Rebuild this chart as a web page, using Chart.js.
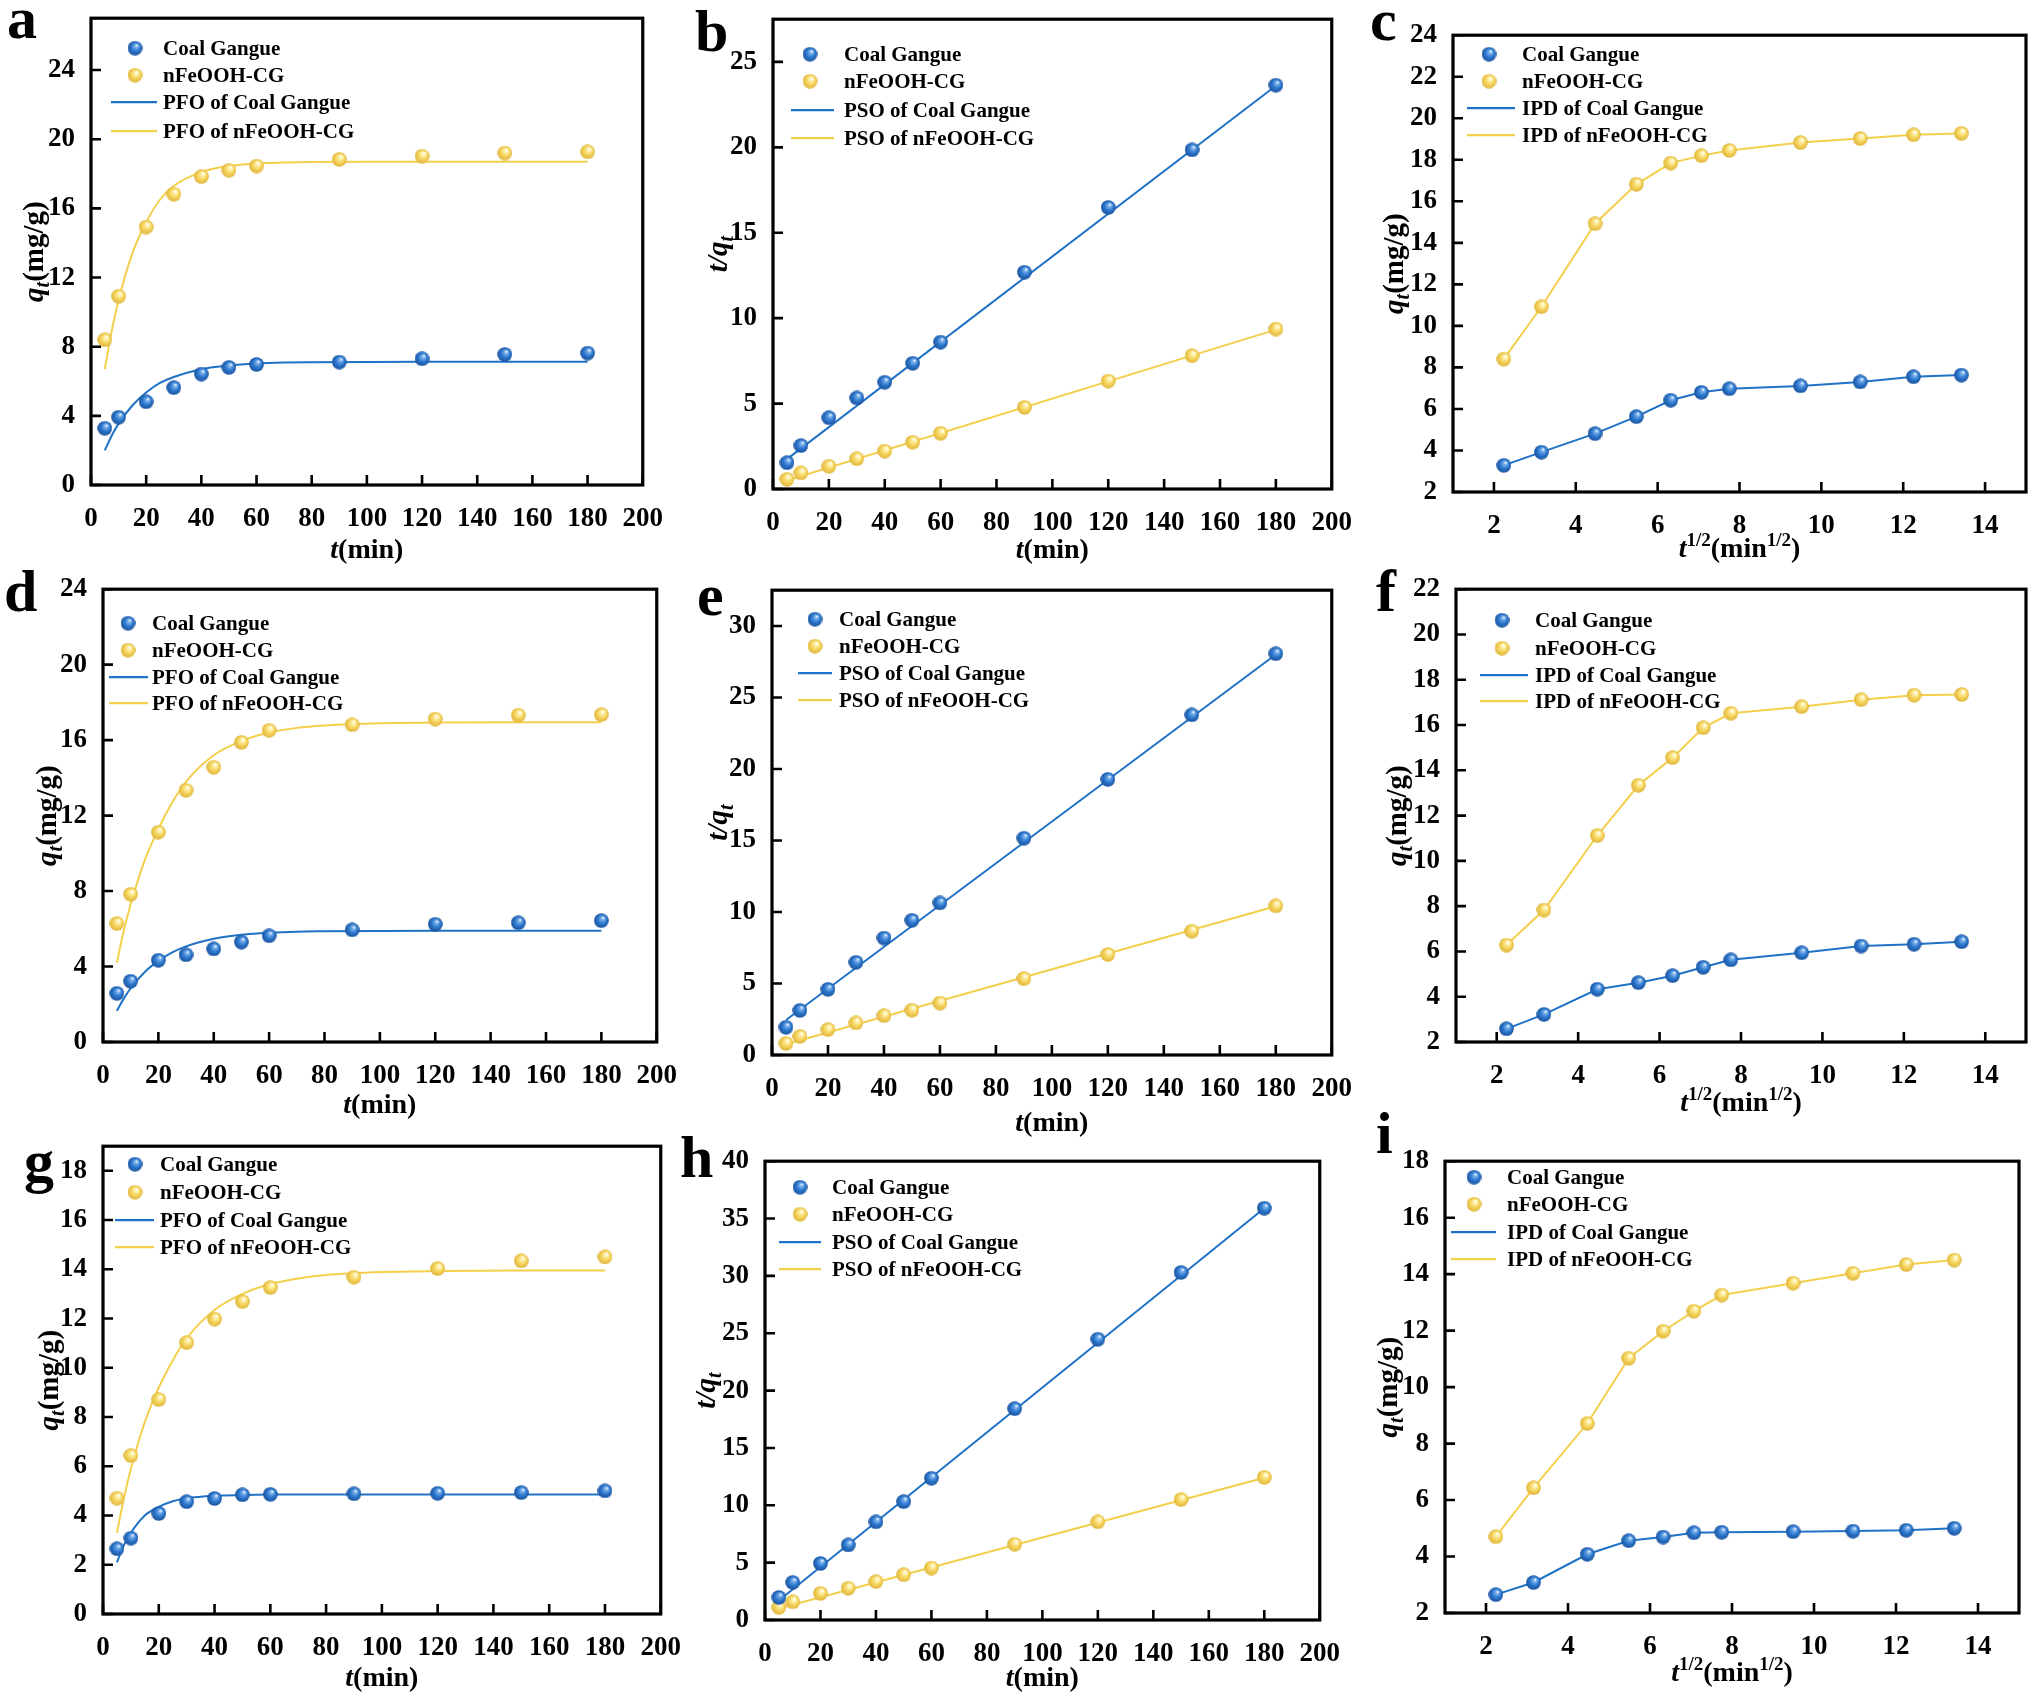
<!DOCTYPE html>
<html>
<head>
<meta charset="utf-8">
<script src="https://cdn.jsdelivr.net/npm/chart.js@4.4.1/dist/chart.umd.min.js"></script>
<style>
html, body { margin: 0; padding: 0; background: #fff; }
#page { position: relative; width: 2032px; height: 1698px; overflow: hidden; background: #fff; }
.cell { position: absolute; }
.lab { position: absolute; font: bold 60px "Liberation Serif", serif; line-height: 60px; color: #000; }
</style>
</head>
<body>
<div id="page"></div>
<script>
/* DATA */
const tMin = [5, 10, 20, 30, 40, 50, 60, 90, 120, 150, 180];
const tHalf = [2.24, 3.16, 4.47, 5.48, 6.32, 7.07, 7.75, 9.49, 10.95, 12.25, 13.42];

// row 1 (a, b, c)
const q1CG = [3.28, 3.92, 4.81, 5.63, 6.42, 6.8, 6.97, 7.11, 7.3, 7.55, 7.63];
const q1Fe = [8.4, 10.92, 14.92, 16.82, 17.84, 18.2, 18.45, 18.83, 19.02, 19.2, 19.27];
const tq1CG = [1.54, 2.54, 4.17, 5.33, 6.25, 7.36, 8.6, 12.69, 16.48, 19.85, 23.64];
const tq1Fe = [0.57, 0.94, 1.33, 1.77, 2.22, 2.74, 3.26, 4.78, 6.32, 7.8, 9.36];

// row 2 (d, e, f)
const q2CG = [2.58, 3.22, 4.33, 4.62, 4.93, 5.3, 5.63, 5.94, 6.24, 6.32, 6.43];
const q2Fe = [6.28, 7.83, 11.12, 13.34, 14.56, 15.88, 16.52, 16.81, 17.12, 17.32, 17.35];
const tq2CG = [1.94, 3.12, 4.59, 6.48, 8.18, 9.42, 10.63, 15.16, 19.27, 23.78, 28.06];
const tq2Fe = [0.81, 1.3, 1.77, 2.24, 2.75, 3.13, 3.63, 5.34, 7.03, 8.66, 10.42];

// row 3 (g, h, i)
const q3CG = [2.65, 3.08, 4.08, 4.56, 4.69, 4.84, 4.86, 4.88, 4.9, 4.93, 5.0];
const q3Fe = [4.7, 6.43, 8.71, 11.02, 11.98, 12.69, 13.26, 13.68, 14.03, 14.34, 14.5];
const tq3CG = [1.97, 3.28, 4.93, 6.54, 8.55, 10.32, 12.36, 18.42, 24.48, 30.3, 35.9];
const tq3Fe = [1.1, 1.58, 2.32, 2.77, 3.35, 3.94, 4.53, 6.6, 8.56, 10.5, 12.44];

// PFO fit curves
const tFit = [5, 7.5, 10, 15, 20, 25, 30, 40, 50, 60, 70, 80, 100, 120, 150, 180];
const pfo1CG = [2.0, 2.85, 3.55, 4.6, 5.35, 5.9, 6.25, 6.7, 6.92, 7.03, 7.08, 7.1, 7.12, 7.13, 7.13, 7.13];
const pfo1Fe = [6.7, 8.9, 10.7, 13.4, 15.2, 16.5, 17.3, 18.1, 18.45, 18.6, 18.65, 18.68, 18.7, 18.7, 18.7, 18.7];
const pfo2CG = [1.65, 2.3, 2.85, 3.7, 4.3, 4.75, 5.07, 5.47, 5.68, 5.79, 5.85, 5.87, 5.89, 5.9, 5.9, 5.9];
const pfo2Fe = [4.2, 5.9, 7.3, 9.6, 11.3, 12.7, 13.8, 15.2, 15.95, 16.4, 16.65, 16.78, 16.9, 16.93, 16.95, 16.95];
const pfo3CG = [2.1, 2.8, 3.3, 4.0, 4.35, 4.58, 4.7, 4.8, 4.83, 4.85, 4.85, 4.85, 4.85, 4.85, 4.85, 4.85];
const pfo3Fe = [3.3, 4.7, 5.9, 7.8, 9.2, 10.3, 11.2, 12.35, 13.0, 13.4, 13.63, 13.77, 13.89, 13.93, 13.95, 13.95];

// PSO fit lines (end points)
const tLine = [5, 180];
const pso1CG = [1.75, 23.6];
const pso1Fe = [0.5, 9.33];
const pso2CG = [2.45, 28.0];
const pso2Fe = [0.75, 10.4];
const pso3CG = [1.7, 35.9];
const pso3Fe = [1.0, 12.4];

// tick labels
const tickTime = [0, 20, 40, 60, 80, 100, 120, 140, 160, 180, 200];
const tickHalf = [2, 4, 6, 8, 10, 12, 14];
const tickQ24 = [0, 4, 8, 12, 16, 20, 24];
const tickTQ25 = [0, 5, 10, 15, 20, 25];
const tickQ2to24 = [2, 4, 6, 8, 10, 12, 14, 16, 18, 20, 22, 24];
const tickTQ30 = [0, 5, 10, 15, 20, 25, 30];
const tickQ2to22 = [2, 4, 6, 8, 10, 12, 14, 16, 18, 20, 22];
const tickQ18 = [0, 2, 4, 6, 8, 10, 12, 14, 16, 18];
const tickTQ40 = [0, 5, 10, 15, 20, 25, 30, 35, 40];
const tickQ2to18 = [2, 4, 6, 8, 10, 12, 14, 16, 18];

const namesCG = 'Coal Gangue', namesFe = 'nFeOOH-CG';

/* STYLE */
const FONT = '"Liberation Serif", "Times New Roman", serif';
const BLUE = '#2072c6', YELLOW = '#f3cf4c';
Chart.defaults.font.family = FONT;
Chart.defaults.font.weight = 'bold';
Chart.defaults.color = '#000';

function ball(hi, mid, edge) {
    const c = document.createElement('canvas');
    c.width = 15; c.height = 15;
    const g = c.getContext('2d');
    const gr = g.createRadialGradient(9.5, 4.5, 0.3, 7.5, 7.5, 7.5);
    gr.addColorStop(0, '#ffffff');
    gr.addColorStop(0.18, hi);
    gr.addColorStop(0.55, mid);
    gr.addColorStop(1, edge);
    g.fillStyle = gr;
    g.beginPath();
    g.arc(7.5, 7.5, 7.3, 0, Math.PI * 2);
    g.fill();
    return c;
}
const ballBlue = ball('#7fb4ec', '#2f7ad0', '#174f9a');
const ballYellow = ball('#fff3b8', '#f6d660', '#deb338');

const TITLE_Q = [['q', 'i'], ['t', 'ib'], ['(mg/g)', '']];
const TITLE_TQ = [['t/q', 'i'], ['t', 'ib']];
const TITLE_T = [['t', 'i'], ['(min)', '']];
const TITLE_T12 = [['t', 'i'], ['1/2', 'p'], ['(min', ''], ['1/2', 'p'], [')', '']];

function drawRich(ctx, parts, cx, cy, size, vertical) {
    const fontOf = f => (f.includes('i') ? 'italic ' : '') + 'bold ' +
        ((f.includes('b') || f.includes('p')) ? Math.round(size * 0.68) : size) + 'px ' + FONT;
    let w = 0;
    parts.forEach(([s, f]) => { ctx.font = fontOf(f); w += ctx.measureText(s).width; });
    ctx.save();
    ctx.translate(cx, cy);
    if (vertical) ctx.rotate(-Math.PI / 2);
    ctx.textAlign = 'left';
    ctx.textBaseline = 'alphabetic';
    let x = -w / 2;
    const base = size * 0.33;
    parts.forEach(([s, f]) => {
        ctx.font = fontOf(f);
        const dy = f.includes('b') ? size * 0.22 : f.includes('p') ? -size * 0.4 : 0;
        ctx.fillText(s, x, base + dy);
        x += ctx.measureText(s).width;
    });
    ctx.restore();
}

/* box, inward ticks, axis titles and legend */
const frame = {
    id: 'frame',
    afterDraw(chart, args, o) {
        const ctx = chart.ctx, a = chart.chartArea;
        const sx = chart.scales.x, sy = chart.scales.y;
        ctx.save();
        ctx.strokeStyle = '#000';
        ctx.lineWidth = 2.6;
        ctx.beginPath();
        sx.ticks.forEach(t => {
            const x = sx.getPixelForValue(t.value);
            ctx.moveTo(x, a.bottom); ctx.lineTo(x, a.bottom - 10);
        });
        sy.ticks.forEach(t => {
            const y = sy.getPixelForValue(t.value);
            ctx.moveTo(a.left, y); ctx.lineTo(a.left + 10, y);
        });
        ctx.stroke();
        ctx.lineWidth = 3.2;
        ctx.strokeRect(a.left, a.top, a.right - a.left, a.bottom - a.top);

        ctx.fillStyle = '#000';
        drawRich(ctx, o.xTitle, (a.left + a.right) / 2, a.bottom + o.xDy, 28, false);
        drawRich(ctx, o.yTitle, a.left - o.yDx, (a.top + a.bottom) / 2, 29, true);

        const lg = o.leg;
        chart.data.datasets.forEach((d, i) => {
            const y = a.top + lg.ys[i];
            if (i < 2) {
                const im = d.pointStyle;
                ctx.drawImage(im, a.left + lg.mx - im.width / 2, y - im.height / 2);
            } else {
                ctx.strokeStyle = d.borderColor;
                ctx.lineWidth = 2.2;
                ctx.beginPath();
                ctx.moveTo(a.left + lg.lx[0], y);
                ctx.lineTo(a.left + lg.lx[1], y);
                ctx.stroke();
            }
            ctx.font = 'bold 21px ' + FONT;
            ctx.textAlign = 'left';
            ctx.textBaseline = 'middle';
            ctx.fillStyle = '#000';
            ctx.fillText(d.label, a.left + lg.tx, y + 1);
        });
        ctx.restore();
    }
};

const zip = (xs, ys) => xs.map((x, i) => ({ x: x, y: ys[i] }));

function sets(px, cg, fe, lx, lcg, lfe, kind, smooth) {
    const line = (data, col, label) => ({
        label: label, data: data, showLine: true, pointRadius: 0,
        borderColor: col, borderWidth: 2, tension: 0,
        cubicInterpolationMode: smooth ? 'monotone' : 'default'
    });
    return [
        { label: namesCG, data: zip(px, cg), pointStyle: ballBlue, pointRadius: 7, showLine: false },
        { label: namesFe, data: zip(px, fe), pointStyle: ballYellow, pointRadius: 7, showLine: false },
        line(zip(lx, lcg), BLUE, kind + ' of ' + namesCG),
        line(zip(lx, lfe), YELLOW, kind + ' of ' + namesFe)
    ];
}

/* PANELS */
const panels = [
    { letter: ['a', 7, 38], box: [91, 14, 643, 485], xr: [0, 200], yr: [0, 27], xt: tickTime, yt: tickQ24,
      xTitle: TITLE_T, yTitle: TITLE_Q, xDy: 64, yDx: 58,
      ds: sets(tMin, q1CG, q1Fe, tFit, pfo1CG, pfo1Fe, 'PFO', true),
      leg: { mx: 44, lx: [20, 66], tx: 72, ys: [30, 57, 84, 113] } },
    { letter: ['b', 695, 51], box: [773, 15, 1332, 489], xr: [0, 200], yr: [0, 27.5], xt: tickTime, yt: tickTQ25,
      xTitle: TITLE_T, yTitle: TITLE_TQ, xDy: 60, yDx: 56,
      ds: sets(tMin, tq1CG, tq1Fe, tLine, pso1CG, pso1Fe, 'PSO', false),
      leg: { mx: 37, lx: [18, 61], tx: 71, ys: [35, 62, 91, 119] } },
    { letter: ['c', 1370, 40], box: [1453, 31, 2026, 492], xr: [1, 15], yr: [2, 24], xt: tickHalf, yt: tickQ2to24,
      xTitle: TITLE_T12, yTitle: TITLE_Q, xDy: 56, yDx: 60,
      ds: sets(tHalf, q1CG, q1Fe, tHalf, q1CG, q1Fe, 'IPD', false),
      leg: { mx: 36, lx: [14, 62], tx: 69, ys: [19, 46, 73, 100] } },
    { letter: ['d', 4, 611], box: [103, 585, 657, 1042], xr: [0, 200], yr: [0, 24], xt: tickTime, yt: tickQ24,
      xTitle: TITLE_T, yTitle: TITLE_Q, xDy: 62, yDx: 57,
      ds: sets(tMin, q2CG, q2Fe, tFit, pfo2CG, pfo2Fe, 'PFO', true),
      leg: { mx: 25, lx: [6, 45], tx: 49, ys: [34, 61, 88, 114] } },
    { letter: ['e', 697, 615], box: [772, 586, 1332, 1055], xr: [0, 200], yr: [0, 32.5], xt: tickTime, yt: tickTQ30,
      xTitle: TITLE_T, yTitle: TITLE_TQ, xDy: 67, yDx: 55,
      ds: sets(tMin, tq2CG, tq2Fe, tLine, pso2CG, pso2Fe, 'PSO', false),
      leg: { mx: 43, lx: [26, 60], tx: 67, ys: [29, 56, 83, 110] } },
    { letter: ['f', 1376, 611], box: [1456, 585, 2026, 1042], xr: [1, 15], yr: [2, 22], xt: tickHalf, yt: tickQ2to22,
      xTitle: TITLE_T12, yTitle: TITLE_Q, xDy: 60, yDx: 60,
      ds: sets(tHalf, q2CG, q2Fe, tHalf, q2CG, q2Fe, 'IPD', false),
      leg: { mx: 46, lx: [24, 72], tx: 79, ys: [31, 59, 86, 112] } },
    { letter: ['g', 24, 1181], box: [103, 1142, 661, 1614], xr: [0, 200], yr: [0, 19], xt: tickTime, yt: tickQ18,
      xTitle: TITLE_T, yTitle: TITLE_Q, xDy: 63, yDx: 55,
      ds: sets(tMin, q3CG, q3Fe, tFit, pfo3CG, pfo3Fe, 'PFO', true),
      leg: { mx: 32, lx: [12, 51], tx: 57, ys: [18, 46, 74, 101] } },
    { letter: ['h', 680, 1177], box: [765, 1157, 1320, 1620], xr: [0, 200], yr: [0, 40], xt: tickTime, yt: tickTQ40,
      xTitle: TITLE_T, yTitle: TITLE_TQ, xDy: 57, yDx: 60,
      ds: sets(tMin, tq3CG, tq3Fe, tLine, pso3CG, pso3Fe, 'PSO', false),
      leg: { mx: 35, lx: [14, 56], tx: 67, ys: [26, 53, 81, 108] } },
    { letter: ['i', 1376, 1153], box: [1445, 1157, 2019, 1613], xr: [1, 15], yr: [2, 18], xt: tickHalf, yt: tickQ2to18,
      xTitle: TITLE_T12, yTitle: TITLE_Q, xDy: 59, yDx: 58,
      ds: sets(tHalf, q3CG, q3Fe, tHalf, q3CG, q3Fe, 'IPD', false),
      leg: { mx: 29, lx: [6, 51], tx: 62, ys: [16, 43, 71, 98] } }
];

const page = document.getElementById('page');
const padL = 100, padT = 20, padR = 30, padB = 95;

panels.forEach(p => {
    const [L, T, R, B] = p.box;
    const w = R - L + padL + padR, h = B - T + padT + padB;
    const cell = document.createElement('div');
    cell.className = 'cell';
    cell.style.left = (L - padL) + 'px';
    cell.style.top = (T - padT) + 'px';
    cell.style.width = w + 'px';
    cell.style.height = h + 'px';
    const cv = document.createElement('canvas');
    cv.width = w; cv.height = h;
    cv.style.width = w + 'px'; cv.style.height = h + 'px';
    cell.appendChild(cv);
    page.appendChild(cell);

    const tickFont = { family: FONT, weight: 'bold', size: 27 };
    new Chart(cv, {
        type: 'scatter',
        data: { datasets: p.ds },
        options: {
            responsive: false,
            animation: false,
            layout: { padding: { left: 0, top: padT, right: padR, bottom: 0 } },
            plugins: {
                legend: { display: false },
                tooltip: { enabled: false },
                frame: { xTitle: p.xTitle, yTitle: p.yTitle, xDy: p.xDy, yDx: p.yDx, leg: p.leg }
            },
            scales: {
                x: {
                    type: 'linear', min: p.xr[0], max: p.xr[1],
                    grid: { display: false }, border: { display: false },
                    ticks: { font: tickFont, color: '#000', padding: 10, maxRotation: 0, autoSkip: false,
                             callback: v => String(v) },
                    afterBuildTicks: s => { s.ticks = p.xt.map(v => ({ value: v })); },
                    afterFit: s => { s.height = padB; }
                },
                y: {
                    type: 'linear', min: p.yr[0], max: p.yr[1],
                    grid: { display: false }, border: { display: false },
                    ticks: { font: tickFont, color: '#000', padding: 8, autoSkip: false,
                             callback: v => String(v) },
                    afterBuildTicks: s => { s.ticks = p.yt.map(v => ({ value: v })); },
                    afterFit: s => { s.width = padL; }
                }
            }
        },
        plugins: [frame]
    });

    const lab = document.createElement('div');
    lab.className = 'lab';
    lab.textContent = p.letter[0];
    lab.style.left = p.letter[1] + 'px';
    lab.style.top = (p.letter[2] - 50) + 'px';
    page.appendChild(lab);
});
</script>
</body>
</html>
